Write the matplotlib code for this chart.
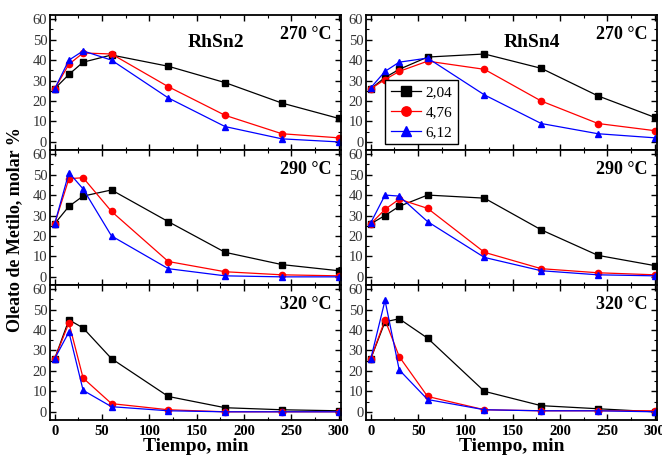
import matplotlib
matplotlib.use("Agg")
import matplotlib.pyplot as plt
from matplotlib.ticker import MultipleLocator

plt.rcParams["font.family"] = ["Liberation Serif", "DejaVu Serif"]

tiempo = [0, 15, 30, 60, 120, 180, 240, 300]
series_labels = ["2,04", "4,76", "6,12"]

# RhSn2
rhsn2_270 = [
    [26, 33, 39, 42.5, 37, 29, 19, 11.5],
    [26, 38, 43.5, 43, 27, 13, 4, 2],
    [26, 40, 44.5, 40, 21.5, 7.5, 1.5, 0],
]
rhsn2_290 = [
    [26, 34.5, 39.5, 42.5, 27, 12, 6, 3],
    [26, 48, 48.5, 32, 7.5, 2.5, 1, 0.5],
    [26, 51, 43, 20, 4, 0.5, 0, 0],
]
rhsn2_320 = [
    [26, 45, 41, 26, 7.5, 2, 1, 0.5],
    [26, 43.5, 16.5, 4, 1, 0, 0, 0],
    [26, 39, 10.5, 2.5, 0.5, 0, 0, 0],
]

# RhSn4
rhsn4_270 = [
    [26, 31.5, 35.5, 41.5, 43, 36, 22.5, 12],
    [26, 30.5, 34.5, 39.5, 35.5, 20, 9, 5.5],
    [26.5, 34.5, 39, 41, 23, 9, 4, 2],
]
rhsn4_290 = [
    [26, 30, 34.5, 40, 38.5, 23, 10.5, 5.5],
    [26, 33, 38, 33.5, 12, 4, 2, 1],
    [26.5, 40, 39.5, 27, 9.5, 3, 1, 0.5],
]
rhsn4_320 = [
    [26, 44, 45.5, 36, 10, 3, 1.5, 0],
    [26, 45, 27, 7.5, 1, 0.5, 0.5, 0.5],
    [26, 54.5, 20.5, 6, 1, 0.5, 0.5, 0],
]

temps = ["270 °C", "290 °C", "320 °C"]
catalysts = ["RhSn2", "RhSn4"]
panels = [[rhsn2_270, rhsn4_270], [rhsn2_290, rhsn4_290], [rhsn2_320, rhsn4_320]]

colors = ["black", "red", "blue"]
markers = ["s", "o", "^"]

fig = plt.figure(figsize=(6.62, 4.59), dpi=100)

col_left = [0.0755, 0.553]
col_width = 0.439
row_h = 0.294
bottom0 = 0.085

axes = []
for r in range(3):
    for c in range(2):
        ax = fig.add_axes([col_left[c], bottom0 + (2 - r) * row_h, col_width, row_h])
        for data, col, mk, lab in zip(panels[r][c], colors, markers, series_labels):
            ax.plot(tiempo, data, color=col, marker=mk, markersize=4.5 if mk != "^" else 5,
                    linewidth=0.9, label=lab)
        ax.set_xlim(-5, 302)
        ax.set_ylim(-4, 62)
        ax.xaxis.set_major_locator(MultipleLocator(50))
        ax.xaxis.set_minor_locator(MultipleLocator(25))
        ax.yaxis.set_major_locator(MultipleLocator(10))
        ax.yaxis.set_minor_locator(MultipleLocator(5))
        ax.tick_params(which="both", direction="in", top=True, right=True)
        ax.tick_params(which="major", length=4, width=1)
        ax.tick_params(which="minor", length=2, width=0.8)
        ax.tick_params(axis="y", labelsize=10.5, pad=2, labelcolor="#333333")
        for s in ax.spines.values():
            s.set_linewidth(1.3)
        if r < 2:
            ax.set_xticklabels([])
        else:
            for t in ax.get_xticklabels():
                t.set_fontweight("bold")
                t.set_fontsize(10.5)
            ax.set_xlabel("Tiempo, min", fontsize=14, fontweight="bold", labelpad=0)
        ax.text(0.97, 0.92, temps[r], transform=ax.transAxes, ha="right", va="top",
                fontsize=13, fontweight="bold")
        if r == 0:
            ax.text(0.57, 0.86, catalysts[c], transform=ax.transAxes, ha="center", va="top",
                    fontsize=14, fontweight="bold")
        axes.append(ax)

leg = axes[1].legend(loc="lower left", bbox_to_anchor=(0.04, -0.015), fontsize=11,
                     frameon=True, fancybox=False, edgecolor="black", handlelength=2.0,
                     handletextpad=0.3, borderpad=0.35, labelspacing=0.4, markerscale=1.5,
                     framealpha=1)
leg.get_frame().set_linewidth(1)

fig.text(0.022, 0.5, "Oleato de Metilo, molar %", rotation=90, ha="center", va="center",
         fontsize=13, fontweight="bold")

fig.savefig("out.png", dpi=100)
